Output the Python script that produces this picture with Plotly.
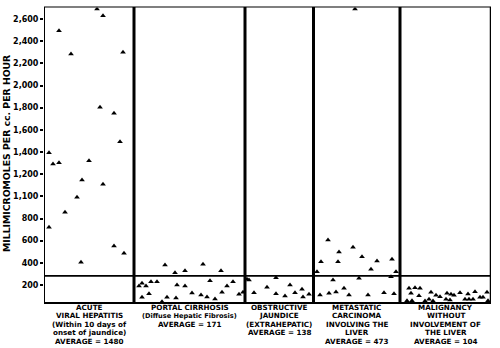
import plotly.graph_objects as go

# ---- data (x = horizontal scatter position, y = value) ----
acute_x = [53, 59, 15, 27, 79, 56, 70, 76, 5, 9, 15, 45, 38, 59, 33, 21, 5, 70, 80, 37]
acute_y = [2690, 2630, 2495, 2284, 2300, 1803, 1749, 1493, 1394, 1292, 1303, 1321,
           1147, 1109, 991, 856, 721, 552, 486, 405]

cirr_x = [121, 131, 141, 159, 177, 95, 98, 102, 107, 113, 133, 141, 166, 183, 189,
          98, 105, 118, 123, 132, 148, 157, 163, 171, 178, 195, 199]
cirr_y = [380, 311, 329, 387, 329, 191, 215, 191, 230, 230, 200, 191, 239, 191, 230,
          89, 122, 49, 89, 83, 128, 110, 92, 74, 134, 116, 134]

obst_x = [203, 205, 232, 210, 223, 232, 241, 246, 251, 258, 259, 265]
obst_y = [251, 245, 266, 131, 179, 122, 101, 200, 131, 161, 92, 116]

meta_x = [284, 295, 309, 277, 294, 318, 333, 348, 273, 327, 352, 347, 289, 315,
          276, 285, 292, 300, 305, 324, 340, 350, 311]
meta_y = [606, 498, 540, 410, 410, 456, 417, 432, 320, 341, 320, 275, 245, 260,
          110, 125, 137, 170, 110, 110, 131, 121, 2690]

malig_x = [365, 371, 376, 367, 375, 363, 368, 387, 392, 396, 381, 385, 389, 403,
           407, 402, 406, 410, 416, 424, 431, 421, 425, 429, 436, 439, 443, 444]
malig_y = [170, 176, 170, 125, 103, 58, 58, 134, 107, 94, 56, 71, 56, 125,
           116, 71, 65, 107, 131, 119, 140, 71, 71, 71, 89, 89, 134, 58]

group_labels = [
    ["ACUTE", "VIRAL HEPATITIS", "(Within 10 days of", "onset of jaundice)", "AVERAGE = 1480"],
    ["PORTAL CIRRHOSIS", "(Diffuse Hepatic Fibrosis)", "AVERAGE = 171"],
    ["OBSTRUCTIVE", "JAUNDICE", "(EXTRAHEPATIC)", "AVERAGE = 138"],
    ["METASTATIC", "CARCINOMA", "INVOLVING THE", "LIVER", "AVERAGE = 473"],
    ["MALIGNANCY", "WITHOUT", "INVOLVEMENT OF", "THE LIVER", "AVERAGE = 104"],
]

tick_vals = [200, 400, 600, 800, 1000, 1200, 1400, 1600, 1800, 2000, 2200, 2400, 2600]
tick_text = ["200", "400", "600", "800", "1,100", "1,200", "1,400", "1,600",
             "1,800", "2,000", "2,200", "2,400", "2,600"]

normal_limit = 282

# ---- layout constants ----
panel_edges = [0, 90, 201, 269.5, 356, 447]
FONT = "DejaVu Sans"

fig = go.Figure()
for xs, ys in [(acute_x, acute_y), (cirr_x, cirr_y), (obst_x, obst_y),
               (meta_x, meta_y), (malig_x, malig_y)]:
    fig.add_trace(go.Scatter(
        x=xs, y=ys, mode="markers",
        marker=dict(symbol="triangle-up", size=5, color="black", line=dict(width=0)),
        showlegend=False, hoverinfo="skip", cliponaxis=False))

shapes = []
shapes.append(dict(type="line", xref="x", yref="paper", x0=0, x1=panel_edges[-1],
                   y0=1, y1=1, line=dict(color="#555555", width=1.5)))
shapes.append(dict(type="line", xref="x", yref="paper", x0=0, x1=panel_edges[-1],
                   y0=0, y1=0, line=dict(color="black", width=2)))
shapes.append(dict(type="line", xref="x", yref="paper", x0=0, x1=0,
                   y0=0, y1=1, line=dict(color="black", width=2)))
for e in panel_edges[1:-1]:
    shapes.append(dict(type="line", xref="x", yref="paper", x0=e, x1=e,
                       y0=0, y1=1, line=dict(color="black", width=3)))
shapes.append(dict(type="line", xref="x", yref="paper", x0=panel_edges[-1], x1=panel_edges[-1],
                   y0=0, y1=1, line=dict(color="black", width=2.5)))
shapes.append(dict(type="line", xref="x", yref="y", x0=0, x1=panel_edges[-1],
                   y0=normal_limit, y1=normal_limit, line=dict(color="black", width=1.8)))

annotations = []
line_px = [307, 315.5, 324, 332.5, 341]
plot_bottom_px, plot_h = 303, 296
for i, lines in enumerate(group_labels):
    cx = (panel_edges[i] + panel_edges[i + 1]) / 2
    for j, t in enumerate(lines):
        size = 6.6 if len(t) > 20 else 7.2
        annotations.append(dict(
            text=t, x=cx, xref="x", y=(plot_bottom_px - line_px[j]) / plot_h, yref="paper",
            xanchor="center", yanchor="middle", showarrow=False,
            font=dict(family=FONT, size=size, color="black", weight="bold")))

annotations.append(dict(
    text="MILLIMICROMOLES PER cc. PER HOUR", textangle=-90,
    x=(6 - 44) / 447, xref="paper", y=(303 - 154) / 296, yref="paper",
    xanchor="center", yanchor="middle", showarrow=False,
    font=dict(family=FONT, size=9.3, color="black", weight="bold")))

fig.update_layout(
    width=500, height=348,
    margin=dict(l=44, r=9, t=7, b=45, pad=0),
    paper_bgcolor="white", plot_bgcolor="white",
    xaxis=dict(range=[0, 447], showgrid=False, zeroline=False, showticklabels=False,
               ticks="", showline=False, fixedrange=True),
    yaxis=dict(range=[37.6, 2708.3], showgrid=False, zeroline=False,
               tickvals=tick_vals, ticktext=tick_text, ticks="outside", ticklen=3,
               tickwidth=1.5, tickcolor="black", showline=False,
               tickfont=dict(family=FONT, size=8, color="black", weight="bold")),
    shapes=shapes, annotations=annotations,
)

fig.write_html("out.html")
